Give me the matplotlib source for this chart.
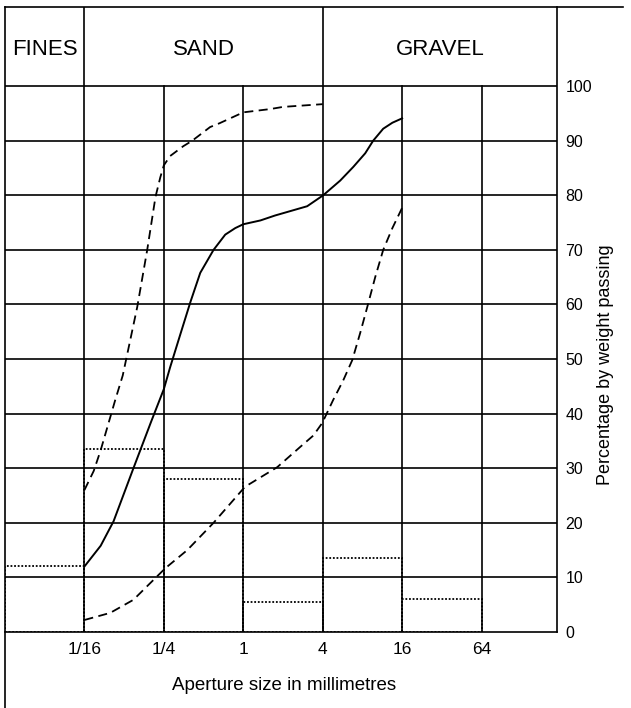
import matplotlib
matplotlib.use("Agg")
import matplotlib.pyplot as plt

plt.rcParams['font.family'] = ['Liberation Sans', 'DejaVu Sans']

# sieve sizes (mm) and histogram of weight retained (%)
bin_edges = [1/64, 1/16, 1/4, 1, 4, 16, 64]
retained = [12, 33.5, 28, 5.5, 13.5, 6]

tick_pos = [1/16, 1/4, 1, 4, 16, 64]
tick_labels = ['1/16', '1/4', '1', '4', '16', '64']

# grading curves (aperture mm, % passing)
solid_x = [0.0625, 0.083, 0.104, 0.147, 0.2, 0.25, 0.279, 0.333, 0.398, 0.472, 0.595,
           0.73, 0.87, 1.0, 1.35, 1.74, 3.05, 4.03, 5.43, 6.82, 8.4, 9.65, 11.5, 13.5, 16]
solid_y = [12, 15.8, 20.3, 30, 38.5, 44.5, 48.5, 54.5, 60.5, 65.8, 70,
           72.8, 74, 74.7, 75.4, 76.3, 78, 80, 82.7, 85.2, 87.7, 90, 92.2, 93.3, 94.1]

upper_x = [0.0625, 0.0735, 0.083, 0.107, 0.122, 0.157, 0.187, 0.216, 0.235, 0.25, 0.279,
           0.351, 0.41, 0.56, 0.66, 1.0, 1.6, 2.0, 4.0]
upper_y = [26, 29.5, 33.3, 42.5, 47, 59.5, 70, 79.7, 83.3, 85.5, 87.2,
           89, 90, 92.5, 93.2, 95.2, 95.8, 96.2, 96.7]

lower_x = [0.0625, 0.098, 0.147, 0.198, 0.257, 0.376, 0.595, 1.03, 1.81, 2.7, 3.4, 3.97,
           4.8, 5.7, 6.7, 7.7, 8.7, 10.0, 11.5, 13.5, 16]
lower_y = [2.2, 3.5, 5.9, 9, 11.7, 15, 20, 26.6, 30.2, 33.9, 36, 38.3,
           42.5, 46, 49.8, 54.8, 59.5, 65, 70, 74, 77.7]

W, H = 631, 708
fig = plt.figure(figsize=(W/100, H/100), dpi=100)
ax = fig.add_axes([5/W, (H-632)/H, (557-5)/W, (632-7)/H])

ax.set_xscale('log', base=2)
xmin, xmax = 2**-6, 2**7.9
ytop = 114.5
ax.set_xlim(xmin, xmax)
ax.set_ylim(0, ytop)

lw = 1.2
# horizontal grid
for v in range(10, 101, 10):
    ax.plot([xmin, xmax], [v, v], color='black', lw=lw)
# vertical grid: class boundaries run through the header
for v in [1/16, 4]:
    ax.plot([v, v], [0, ytop], color='black', lw=lw)
for v in [1/4, 1, 16, 64]:
    ax.plot([v, v], [0, 100], color='black', lw=lw)

# retained histogram
widths = [bin_edges[i+1] - bin_edges[i] for i in range(len(retained))]
ax.bar(bin_edges[:-1], retained, width=widths, align='edge', fill=False,
       edgecolor='black', linestyle=(0, (1, 1)), linewidth=1.3)

# curves
ax.plot(solid_x, solid_y, color='black', lw=1.4, solid_joinstyle='round')
ax.plot(upper_x, upper_y, color='black', lw=1.3, linestyle=(0, (5, 3)))
ax.plot(lower_x, lower_y, color='black', lw=1.3, linestyle=(0, (5, 3)))

# header text
hy = 106.8
ax.text((1/64 * 1/16) ** 0.5, hy, 'FINES', ha='center', va='center', fontsize=16)
ax.text((1/16 * 4) ** 0.5, hy, 'SAND', ha='center', va='center', fontsize=16)
ax.text((4 * xmax) ** 0.5, hy, 'GRAVEL', ha='center', va='center', fontsize=16)

# frame
for s in ax.spines.values():
    s.set_linewidth(lw)
ax.spines['left'].set_visible(False)
ax.spines['top'].set_visible(False)
ax.plot([xmin, xmin], [-14, ytop], color='black', lw=lw, clip_on=False)
ax.plot([xmin, 2**9.56], [ytop, ytop], color='black', lw=lw, clip_on=False)

ax.set_xticks(tick_pos)
ax.set_xticklabels(tick_labels)
ax.xaxis.set_minor_locator(matplotlib.ticker.NullLocator())
ax.tick_params(axis='x', length=0, pad=7, labelsize=12.5)

ax.yaxis.tick_right()
ax.set_yticks(range(0, 101, 10))
ax.tick_params(axis='y', length=0, pad=6, labelsize=11.5)

fig.text(606/W, 1 - 365/H, 'Percentage by weight passing', rotation=90,
         ha='center', va='center', fontsize=13)
fig.text(284/W, 1 - 686/H, 'Aperture size in millimetres',
         ha='center', va='center', fontsize=13.5)

fig.savefig('out.png', dpi=100)
